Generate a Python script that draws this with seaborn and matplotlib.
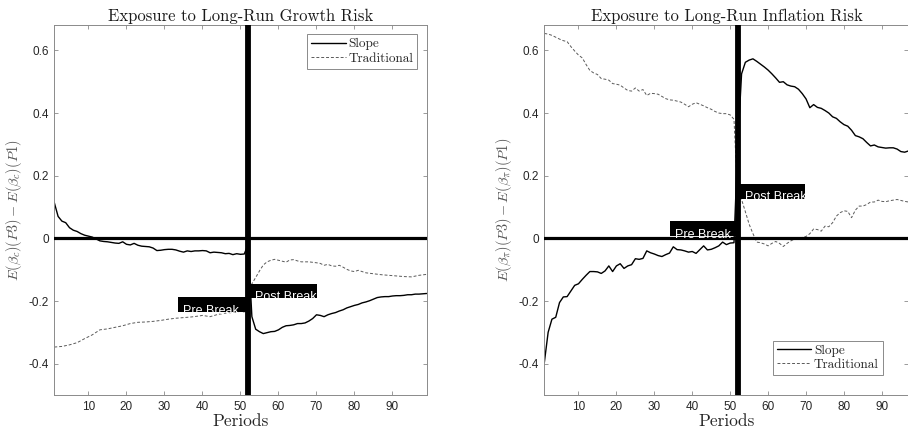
import numpy as np
import pandas as pd
import matplotlib
matplotlib.use("Agg")
import matplotlib.pyplot as plt
import seaborn as sns
from matplotlib.patches import Rectangle
from matplotlib.ticker import FuncFormatter, MultipleLocator

# periods shown on the horizontal axis
periods_growth = list(range(1, 100))
periods_infl = list(range(1, 98))

# Left panel: slope estimate, one value per period
growth_slope = [0.114, 0.070, 0.055, 0.050, 0.034, 0.026, 0.022, 0.015, 0.010, 0.007,
                0.004, -0.002, -0.008, -0.010, -0.011, -0.013, -0.015, -0.016, -0.011, -0.019,
                -0.021, -0.016, -0.022, -0.025, -0.026, -0.027, -0.031, -0.039, -0.038, -0.036,
                -0.035, -0.035, -0.037, -0.041, -0.044, -0.040, -0.042, -0.040, -0.040, -0.039,
                -0.040, -0.046, -0.044, -0.045, -0.046, -0.049, -0.048, -0.052, -0.049, -0.051,
                -0.050, -0.020, -0.250, -0.290, -0.298, -0.304, -0.301, -0.298, -0.297, -0.292,
                -0.284, -0.279, -0.278, -0.276, -0.272, -0.272, -0.270, -0.264, -0.256, -0.244,
                -0.246, -0.250, -0.244, -0.240, -0.237, -0.232, -0.228, -0.222, -0.218, -0.214,
                -0.211, -0.206, -0.203, -0.199, -0.194, -0.189, -0.187, -0.186, -0.186, -0.184,
                -0.183, -0.183, -0.182, -0.180, -0.180, -0.178, -0.178, -0.177, -0.176]

# Left panel: traditional estimate, read at fewer points
growth_trad_x = [1, 3, 5, 7, 9, 11, 13, 15, 17, 19, 21, 23, 25, 27, 29, 31, 33, 35, 37, 39,
                 40, 42, 44, 46, 48, 50, 51, 52, 53, 54, 55, 56, 57, 58, 59, 60, 61, 62, 63, 64,
                 65, 66, 68, 70, 71, 72, 73, 74, 75, 76, 77, 78, 79, 80, 81, 82, 83, 85, 87, 89,
                 91, 93, 95, 97, 99]
growth_trad = [-0.347, -0.345, -0.340, -0.333, -0.320, -0.308, -0.292, -0.289, -0.284, -0.279,
               -0.272, -0.268, -0.267, -0.265, -0.262, -0.258, -0.255, -0.253, -0.251, -0.248,
               -0.246, -0.250, -0.243, -0.239, -0.237, -0.233, -0.235, -0.180, -0.145, -0.125,
               -0.104, -0.085, -0.075, -0.070, -0.067, -0.070, -0.073, -0.076, -0.069, -0.068,
               -0.072, -0.075, -0.075, -0.078, -0.080, -0.086, -0.083, -0.088, -0.089, -0.086,
               -0.092, -0.099, -0.104, -0.106, -0.102, -0.106, -0.110, -0.113, -0.116, -0.118,
               -0.120, -0.122, -0.123, -0.118, -0.115]

# Right panel: slope estimate, one value per period
infl_slope = [-0.396, -0.300, -0.258, -0.252, -0.205, -0.187, -0.186, -0.168, -0.150, -0.145,
              -0.131, -0.118, -0.106, -0.106, -0.107, -0.112, -0.104, -0.088, -0.106, -0.088,
              -0.081, -0.096, -0.088, -0.084, -0.065, -0.067, -0.064, -0.040, -0.046, -0.050,
              -0.055, -0.058, -0.052, -0.047, -0.027, -0.036, -0.037, -0.040, -0.044, -0.042,
              -0.048, -0.036, -0.024, -0.037, -0.035, -0.030, -0.024, -0.012, -0.020, -0.015,
              -0.014, 0.300, 0.525, 0.562, 0.569, 0.573, 0.565, 0.556, 0.547, 0.537,
              0.525, 0.512, 0.498, 0.500, 0.490, 0.486, 0.484, 0.476, 0.462, 0.445,
              0.417, 0.427, 0.418, 0.415, 0.408, 0.400, 0.388, 0.383, 0.372, 0.363,
              0.358, 0.345, 0.328, 0.324, 0.318, 0.306, 0.295, 0.298, 0.292, 0.290,
              0.288, 0.289, 0.289, 0.285, 0.277, 0.275, 0.279]

# Right panel: traditional estimate, one value per period
infl_trad = [0.654, 0.652, 0.648, 0.642, 0.636, 0.631, 0.628, 0.612, 0.598, 0.585,
             0.576, 0.555, 0.536, 0.528, 0.523, 0.510, 0.508, 0.505, 0.494, 0.492,
             0.489, 0.480, 0.472, 0.470, 0.480, 0.470, 0.475, 0.456, 0.463, 0.462,
             0.460, 0.453, 0.446, 0.442, 0.441, 0.438, 0.435, 0.428, 0.420, 0.428,
             0.433, 0.428, 0.423, 0.417, 0.412, 0.405, 0.400, 0.398, 0.398, 0.394,
             0.380, 0.130, 0.124, 0.085, 0.045, 0.015, -0.012, -0.014, -0.018, -0.024,
             -0.016, -0.010, -0.016, -0.026, -0.016, -0.008, -0.002, 0.000, 0.003, 0.006,
             0.015, 0.030, 0.028, 0.023, 0.039, 0.037, 0.050, 0.071, 0.082, 0.088,
             0.086, 0.066, 0.090, 0.103, 0.103, 0.108, 0.116, 0.116, 0.122, 0.118,
             0.117, 0.120, 0.122, 0.124, 0.121, 0.118, 0.116]

break_period = 52
titles = ["Exposure to Long-Run Growth Risk", "Exposure to Long-Run Inflation Risk"]
ylabels = [r"$E(\beta_c)(P3)-E(\beta_c)(P1)$", r"$E(\beta_\pi)(P3)-E(\beta_\pi)(P1)$"]

sns.set_style("white")
plt.rcParams["mathtext.fontset"] = "cm"
plt.rcParams["axes.unicode_minus"] = False
plt.rcParams["font.family"] = ["Liberation Sans", "DejaVu Sans"]

fig = plt.figure(figsize=(9.08, 4.38), dpi=100)
ax1 = fig.add_axes([0.0598, 0.0982, 0.4101, 0.8440])
ax2 = fig.add_axes([0.5995, 0.0982, 0.4010, 0.8440])

panels = [
    (ax1, pd.DataFrame({"Periods": periods_growth, "v": growth_slope}),
     pd.DataFrame({"Periods": growth_trad_x, "v": growth_trad}), (1, 99),
     ("upper right", (0.974, 0.976)),
     [(33.6, -0.236, 17.9, 0.048, "Pre Break"), (52.5, -0.192, 17.6, 0.045, "Post Break")]),
    (ax2, pd.DataFrame({"Periods": periods_infl, "v": infl_slope}),
     pd.DataFrame({"Periods": periods_infl, "v": infl_trad}), (1, 97),
     ("lower right", (0.929, 0.054)),
     [(34.1, 0.006, 17.4, 0.048, "Pre Break"), (52.6, 0.127, 17.1, 0.047, "Post Break")]),
]

for i, (ax, slope_df, trad_df, xlim, leg_pos, boxes) in enumerate(panels):
    sns.lineplot(data=slope_df, x="Periods", y="v", ax=ax, color="black", lw=1.0,
                 label="Slope", estimator=None, sort=False)
    sns.lineplot(data=trad_df, x="Periods", y="v", ax=ax, color="#5a5a5a", lw=0.7,
                 label="Traditional", estimator=None, sort=False)
    ax.lines[1].set_dashes([3, 2])

    # break markers
    ax.axhline(0, color="black", lw=2.3, zorder=3)
    ax.axvline(break_period, color="black", lw=4.2, zorder=3)

    # black label boxes with white text (text cut at the box edge)
    for bx, by, bw, bh, txt in boxes:
        rect = Rectangle((bx, by), bw, bh, facecolor="black", edgecolor="none", zorder=4)
        ax.add_patch(rect)
        t = ax.text(bx + 1.3, by - 0.006, txt, color="white", fontsize=9,
                    va="baseline", ha="left", zorder=5)
        t.set_clip_path(rect)

    ax.set_xlim(*xlim)
    ax.set_ylim(-0.5, 0.68)
    ax.xaxis.set_major_locator(MultipleLocator(10))
    ax.set_yticks([-0.4, -0.2, 0, 0.2, 0.4, 0.6])
    ax.yaxis.set_major_formatter(FuncFormatter(lambda v, p: "%g" % round(v, 2)))
    ax.tick_params(direction="in", length=3, width=0.6, color="#8a8a8a",
                   labelsize=8.5, labelcolor="#262626", top=True, right=True,
                   bottom=True, left=True, pad=4)
    for s in ax.spines.values():
        s.set_color("#8a8a8a")
        s.set_linewidth(0.7)

    ax.set_title(titles[i], fontsize=12, family="cmr10", color="#1a1a1a", pad=3)
    ax.set_xlabel("Periods", fontsize=12.5, family="cmr10", color="#262626", labelpad=1)
    ax.set_ylabel(ylabels[i], fontsize=10.3, color="#555555", labelpad=3)

    leg = ax.legend(loc=leg_pos[0], bbox_to_anchor=leg_pos[1], frameon=True, fancybox=False,
                    framealpha=1, prop={"family": "cmr10", "size": 9.5}, handlelength=2.6,
                    handletextpad=0.2, borderpad=0.3, labelspacing=0.15, borderaxespad=0)
    leg.get_frame().set_edgecolor("#8a8a8a")
    leg.get_frame().set_linewidth(0.7)

plt.savefig("out.png", dpi=100)
